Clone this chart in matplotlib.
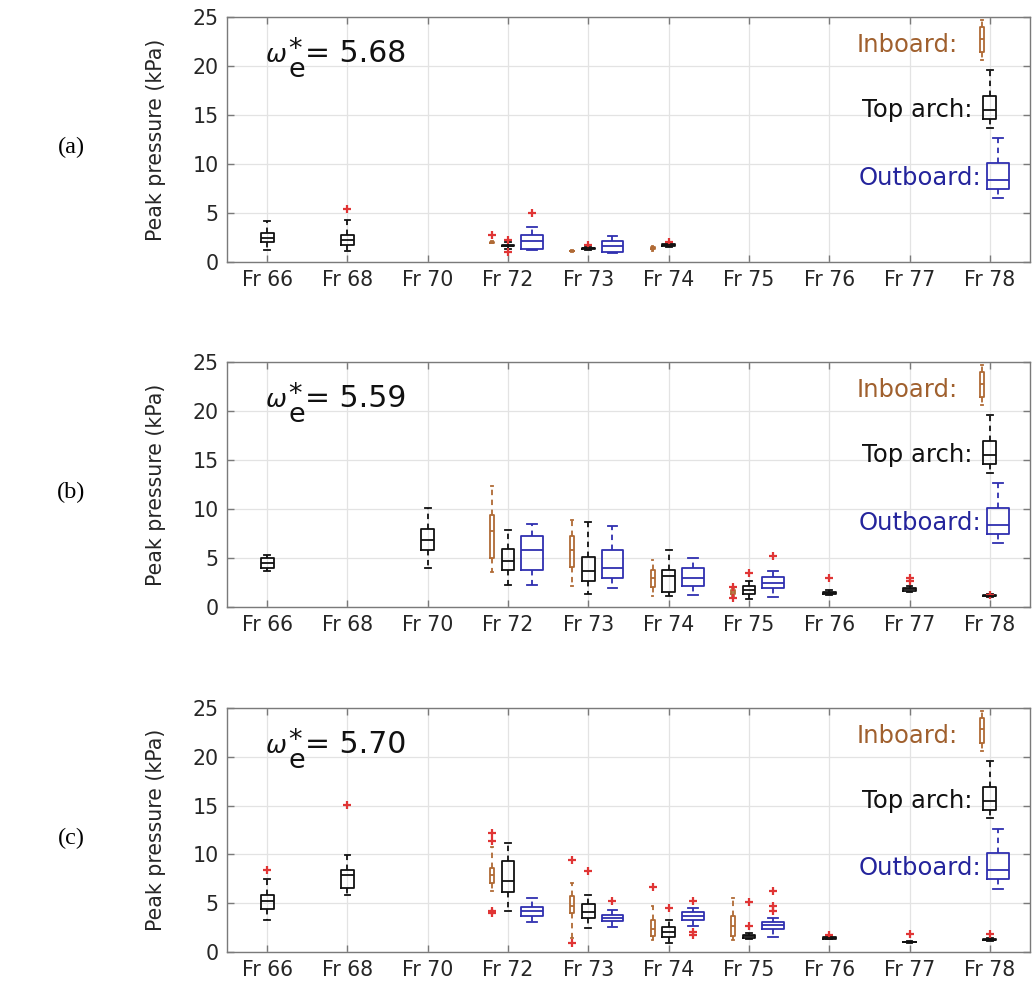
import matplotlib
matplotlib.use("Agg")
import matplotlib.pyplot as plt

frames = ["Fr 66", "Fr 68", "Fr 70", "Fr 72", "Fr 73", "Fr 74", "Fr 75", "Fr 76", "Fr 77", "Fr 78"]
omegas = ["5.68", "5.59", "5.70"]
panel_tags = ["(a)", "(b)", "(c)"]

# each box: (frame, whislo, q1, median, q3, whishi, [fliers])
a_inboard = [("Fr 72", 1.9, 1.95, 2.0, 2.05, 2.1, [2.8]),
             ("Fr 73", 1.05, 1.1, 1.12, 1.15, 1.2, []),
             ("Fr 74", 1.1, 1.3, 1.4, 1.5, 1.65, [])]
a_top = [("Fr 66", 1.26, 2.04, 2.48, 3.0, 4.2, []),
         ("Fr 68", 1.1, 1.77, 2.2, 2.72, 4.25, [5.37]),
         ("Fr 72", 1.3, 1.6, 1.67, 1.75, 2.0, [2.2, 1.0]),
         ("Fr 73", 1.2, 1.3, 1.38, 1.45, 1.6, [1.75]),
         ("Fr 74", 1.5, 1.6, 1.7, 1.8, 1.9, [2.07])]
a_outboard = [("Fr 72", 1.2, 1.36, 2.14, 2.72, 3.57, [5.03]),
              ("Fr 73", 0.95, 1.05, 1.6, 2.18, 2.65, [])]

b_inboard = [("Fr 72", 3.57, 5.0, 7.72, 9.42, 12.3, []),
             ("Fr 73", 2.1, 4.08, 5.85, 7.28, 8.9, []),
             ("Fr 74", 1.09, 2.04, 2.96, 3.8, 4.83, []),
             ("Fr 75", 1.1, 1.3, 1.5, 1.7, 1.9, [2.05, 0.95])]
b_top = [("Fr 66", 3.64, 3.98, 4.49, 5.0, 5.34, []),
         ("Fr 70", 3.98, 5.85, 6.87, 7.96, 10.1, []),
         ("Fr 72", 2.28, 3.74, 4.73, 5.92, 7.9, []),
         ("Fr 73", 1.36, 2.62, 3.64, 5.1, 8.67, []),
         ("Fr 74", 1.16, 1.5, 3.13, 3.8, 5.78, []),
         ("Fr 75", 0.85, 1.3, 1.7, 2.12, 2.64, [3.52]),
         ("Fr 76", 1.2, 1.35, 1.45, 1.55, 1.7, [2.96]),
         ("Fr 77", 1.5, 1.65, 1.8, 1.95, 2.1, [2.7, 2.96]),
         ("Fr 78", 1.0, 1.1, 1.15, 1.2, 1.3, [1.2])]
b_outboard = [("Fr 72", 2.2, 3.74, 5.78, 7.28, 8.5, []),
              ("Fr 73", 1.94, 2.96, 3.98, 5.85, 8.3, []),
              ("Fr 74", 1.26, 2.18, 2.96, 3.98, 4.97, []),
              ("Fr 75", 1.0, 1.92, 2.4, 3.04, 3.7, [5.17])]

c_inboard = [("Fr 72", 6.2, 7.07, 7.86, 8.6, 10.8, [12.2, 11.4, 4.0, 4.2]),
             ("Fr 73", 1.43, 4.0, 4.75, 5.7, 7.07, [9.46, 0.92]),
             ("Fr 74", 1.26, 1.6, 2.36, 3.31, 4.68, [6.66]),
             ("Fr 75", 1.26, 1.6, 2.63, 3.65, 5.53, [])]
c_top = [("Fr 66", 3.24, 4.4, 5.19, 5.87, 7.48, [8.44]),
         ("Fr 68", 5.87, 6.56, 7.92, 8.44, 9.9, [15.03]),
         ("Fr 72", 4.17, 6.15, 7.24, 9.29, 11.17, []),
         ("Fr 73", 2.46, 3.48, 4.06, 4.92, 5.8, [8.27]),
         ("Fr 74", 0.92, 1.5, 2.0, 2.56, 3.31, [4.5]),
         ("Fr 75", 1.3, 1.45, 1.6, 1.75, 1.9, [2.63, 5.12]),
         ("Fr 76", 1.3, 1.38, 1.43, 1.5, 1.6, [1.78]),
         ("Fr 77", 0.95, 1.0, 1.02, 1.05, 1.1, [1.88]),
         ("Fr 78", 1.15, 1.2, 1.26, 1.32, 1.4, [1.88])]
c_outboard = [("Fr 72", 3.07, 3.72, 4.17, 4.61, 5.53, []),
              ("Fr 73", 2.56, 3.14, 3.48, 3.83, 4.34, [5.19]),
              ("Fr 74", 2.7, 3.24, 3.65, 4.06, 4.5, [5.26, 2.0, 1.78]),
              ("Fr 75", 1.54, 2.36, 2.73, 3.07, 3.48, [6.2, 4.75, 4.17])]

# legend key boxes (drawn at Fr 78)
leg_inboard = [("Fr 78", 20.6, 21.4, 22.8, 24.0, 24.7, [])]
leg_top = [("Fr 78", 13.7, 14.6, 15.5, 16.9, 19.6, [])]
leg_outboard = [("Fr 78", 6.5, 7.45, 8.37, 10.1, 12.65, [])]

legend_names = ["Inboard:", "Top arch:", "Outboard:"]

C_IN = "#B06A35"
C_TOP = "#111111"
C_OUT = "#2F2FB0"
C_IN_TXT = "#A0602E"
C_OUT_TXT = "#24249C"
FLIER = "#E03535"

panels = [(a_inboard, a_top, a_outboard),
          (b_inboard, b_top, b_outboard),
          (c_inboard, c_top, c_outboard)]

fig = plt.figure(figsize=(10.32, 9.89), dpi=100)
axes_rects = [(227, 17, 262), (227, 362, 607), (227, 708, 952)]
W, H = 1032.0, 989.0
right_px = 1030


def draw(ax, boxes, offset, width, color):
    stats = []
    pos = []
    for (fr, lo, q1, med, q3, hi, fl) in boxes:
        stats.append(dict(whislo=lo, q1=q1, med=med, q3=q3, whishi=hi, fliers=fl))
        pos.append(frames.index(fr) + 1 + offset)
    ax.bxp(stats, positions=pos, widths=width, capwidths=width * 0.45,
           showfliers=True, manage_ticks=False,
           boxprops=dict(color=color, lw=1.3),
           medianprops=dict(color=color, lw=1.3),
           whiskerprops=dict(color=color, lw=1.3, linestyle=(0, (3, 2.5))),
           capprops=dict(color=color, lw=1.3),
           flierprops=dict(marker="+", markeredgecolor=FLIER, markersize=6,
                           markeredgewidth=1.6, linestyle="none"))


def ftext(x_px, y_px, s, **kw):
    fig.text(x_px / W, 1 - y_px / H, s, **kw)


for i, (inb, top, outb) in enumerate(panels):
    left, ytop, ybot = axes_rects[i]
    ax = fig.add_axes([left / W, 1 - ybot / H, (right_px - left) / W, (ybot - ytop) / H])
    ax.set_xlim(0.5, 10.5)
    ax.set_ylim(0, 25)
    ax.set_xticks(range(1, 11))
    ax.set_xticklabels(frames)
    ax.set_yticks([0, 5, 10, 15, 20, 25])
    ax.grid(True, color="#e3e3e3", lw=0.9)
    ax.set_axisbelow(True)
    for s in ax.spines.values():
        s.set_color("#7a7a7a")
        s.set_linewidth(1.0)
    ax.tick_params(direction="in", length=5, width=1.0, color="#7a7a7a",
                   labelsize=14.8, labelcolor="#262626", top=True, right=True, pad=6)
    ax.set_ylabel("Peak pressure (kPa)", fontsize=14.8, color="#262626", labelpad=19)

    draw(ax, inb, -0.2, 0.05, C_IN)
    draw(ax, top, 0.0, 0.16, C_TOP)
    draw(ax, outb, 0.3, 0.27, C_OUT)
    draw(ax, leg_inboard, -0.1, 0.05, C_IN)
    draw(ax, leg_top, 0.0, 0.16, C_TOP)
    draw(ax, leg_outboard, 0.1, 0.27, C_OUT)

    ax.text(9.60, 21.4, legend_names[0], color=C_IN_TXT, fontsize=17.5, ha="right", va="baseline")
    ax.text(9.79, 14.8, legend_names[1], color=C_TOP, fontsize=17.5, ha="right", va="baseline")
    ax.text(9.89, 7.86, legend_names[2], color=C_OUT_TXT, fontsize=17.5, ha="right", va="baseline")

    # omega_e^* label: omega, stacked "*"/"e", then "= value"
    base = ytop + 45
    ftext(265, base, r"$\omega$", fontsize=18, color="#111111", ha="left", va="baseline")
    ftext(288, base - 25, "*\ne", fontsize=19.5, linespacing=0.68, color="#111111",
          ha="left", va="top", multialignment="left")
    ftext(305, base, "= " + omegas[i], fontsize=21.5, color="#111111", ha="left", va="baseline")

    yc = (ytop + ybot) / 2.0 + 8
    ftext(71, yc, panel_tags[i], fontsize=17.5, family="Liberation Serif",
          ha="center", va="center", color="black")

fig.savefig("out.png", dpi=100, facecolor="white")
